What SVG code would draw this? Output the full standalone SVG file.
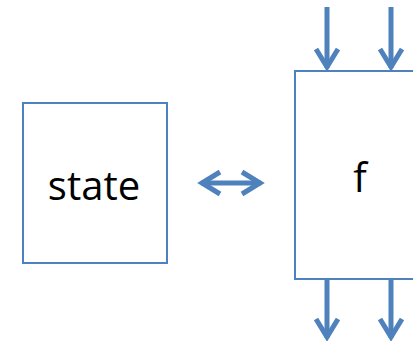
<svg xmlns="http://www.w3.org/2000/svg" width="413" height="341" viewBox="0 0 413 341">
  <style>
    .box { fill: #ffffff; stroke: #4f81bd; stroke-width: 2; }
    .label { font-family: "Open Sans", "Liberation Sans", sans-serif; font-size: 40px; fill: #000000; }
    .flow { stroke: #4f81bd; stroke-width: 5; fill: none; }
  </style>
  <defs>
    <marker id="chev" markerUnits="userSpaceOnUse" markerWidth="60" markerHeight="60" viewBox="-30 -30 60 60" refX="0" refY="0" orient="auto-start-reverse" overflow="visible">
      <path d="M-19,-11 L-1,0 L-19,11" fill="none" stroke="#4f81bd" stroke-width="5" stroke-linejoin="miter"/>
    </marker>
  </defs>

  <g id="state">
    <rect class="box" x="23" y="103" width="144" height="160"/>
    <text class="label" x="94" y="200" text-anchor="middle">state</text>
  </g>

  <g id="f">
    <rect class="box" x="295" y="71" width="130" height="208"/>
    <text class="label" x="360" y="192" text-anchor="middle">f</text>
  </g>

  <g id="connectors">
    <!-- inputs into f -->
    <line class="flow" x1="327" y1="7" x2="327" y2="68" marker-end="url(#chev)"/>
    <line class="flow" x1="391" y1="7" x2="391" y2="68" marker-end="url(#chev)"/>
    <!-- outputs from f -->
    <line class="flow" x1="327" y1="280" x2="327" y2="338" marker-end="url(#chev)"/>
    <line class="flow" x1="391" y1="280" x2="391" y2="338" marker-end="url(#chev)"/>
    <!-- state exchange -->
    <line class="flow" x1="201" y1="183" x2="261" y2="183" marker-start="url(#chev)" marker-end="url(#chev)"/>
  </g>
</svg>
